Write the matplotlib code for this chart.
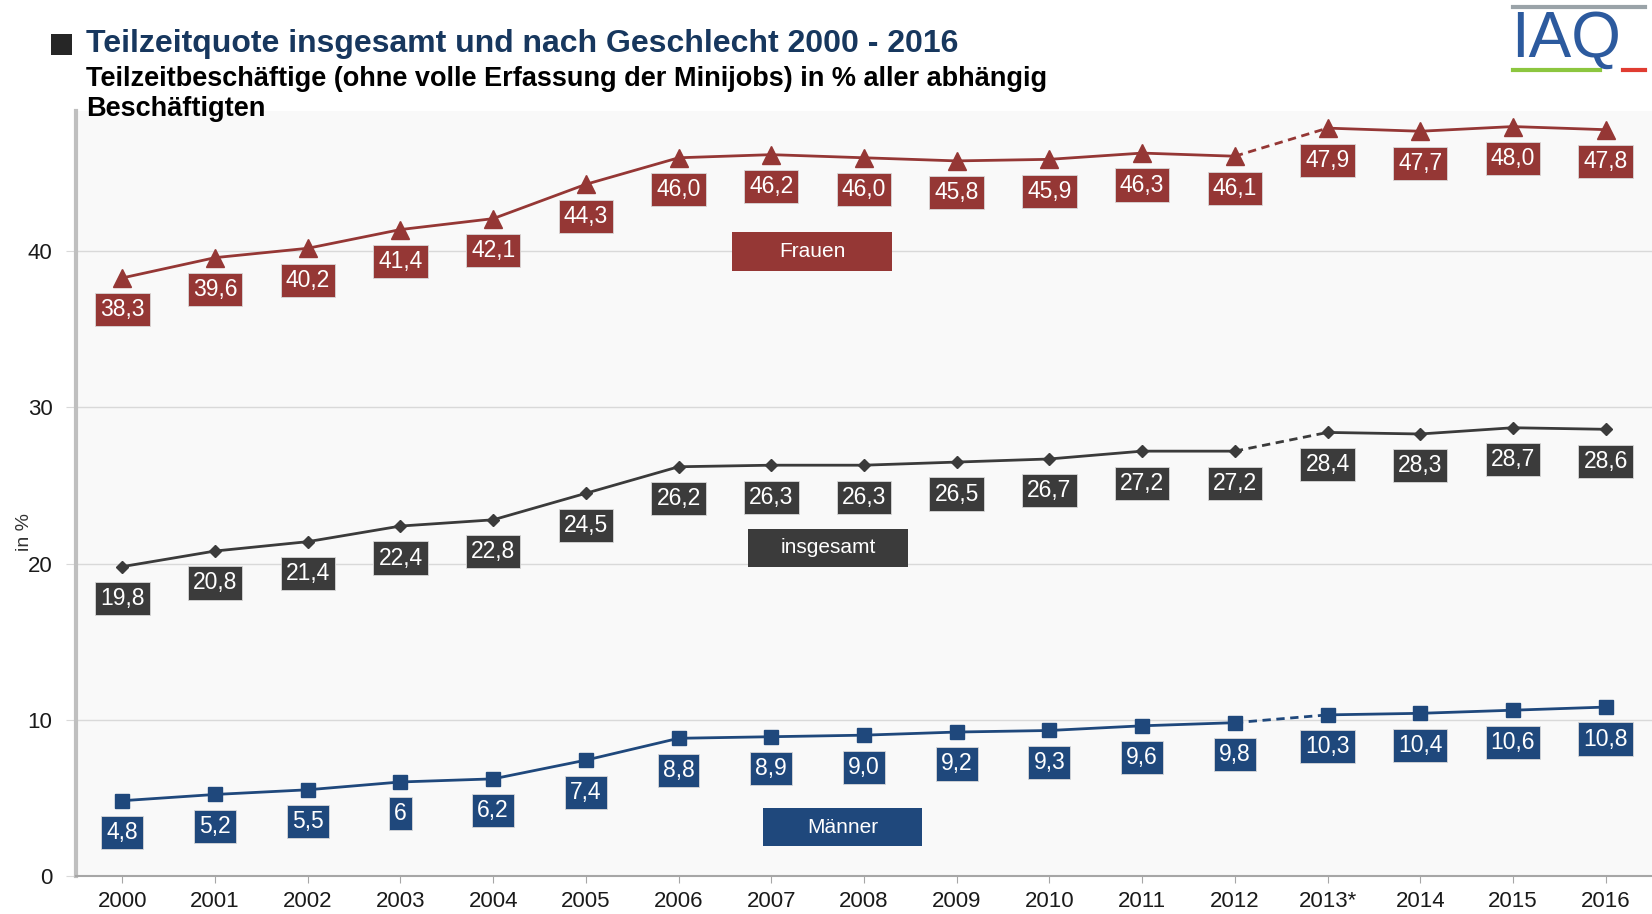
import numpy as np
import matplotlib.pyplot as plt
from matplotlib.lines import Line2D

plt.rcParams['font.family'] = ['Liberation Sans', 'DejaVu Sans']

# ── Data ──────────────────────────────────────────────────────────────────────
years = ['2000', '2001', '2002', '2003', '2004', '2005', '2006', '2007', '2008',
         '2009', '2010', '2011', '2012', '2013*', '2014', '2015', '2016']
frauen = [38.3, 39.6, 40.2, 41.4, 42.1, 44.3, 46.0, 46.2, 46.0, 45.8, 45.9,
          46.3, 46.1, 47.9, 47.7, 48.0, 47.8]
insgesamt = [19.8, 20.8, 21.4, 22.4, 22.8, 24.5, 26.2, 26.3, 26.3, 26.5, 26.7,
             27.2, 27.2, 28.4, 28.3, 28.7, 28.6]
maenner = [4.8, 5.2, 5.5, 6.0, 6.2, 7.4, 8.8, 8.9, 9.0, 9.2, 9.3, 9.6, 9.8,
           10.3, 10.4, 10.6, 10.8]
label_override = {('Männer', 3): '6'}
break_idx = 12   # dashed segment 2012 -> 2013*

# name, values, colour, marker, marker size, series-label centre (x, y)
series = [
    ('Frauen',    frauen,    '#953735', '^', 13, (7.44, 40.0)),
    ('insgesamt', insgesamt, '#3b3b3b', 'D', 6,  (7.61, 21.0)),
    ('Männer',    maenner,   '#1f487c', 's', 10, (7.77, 3.1)),
]

# ── Figure ────────────────────────────────────────────────────────────────────
fig = plt.figure(figsize=(16.52, 9.14), dpi=100)
ax = fig.add_axes([0.046, 0.042, 0.954, 0.8366])
ax.set_facecolor('#f9f9f9')

x = np.arange(len(years))
box_w, box_h = 1.72, 2.45   # series label box size (data units)
for name, vals, col, mk, ms, (lx, ly) in series:
    v = np.array(vals)
    ax.plot(x[:break_idx + 1], v[:break_idx + 1], color=col, lw=2, zorder=3)
    ax.plot(x[break_idx:break_idx + 2], v[break_idx:break_idx + 2], color=col,
            lw=2, ls=(0, (3, 2)), zorder=3)
    ax.plot(x[break_idx + 1:], v[break_idx + 1:], color=col, lw=2, zorder=3)
    ax.plot(x, v, ls='none', marker=mk, ms=ms, color=col, zorder=4)
    for i, val in enumerate(vals):
        txt = label_override.get((name, i), '{:.1f}'.format(val).replace('.', ','))
        ax.annotate(txt, (i, val), xytext=(0, -23), textcoords='offset points',
                    ha='center', va='center', color='white', fontsize=16.5,
                    bbox=dict(boxstyle='square,pad=0.22', facecolor=col,
                              edgecolor='#d8d8d8', lw=0.6), zorder=5)
    ax.add_patch(plt.Rectangle((lx - box_w / 2, ly - box_h / 2), box_w, box_h,
                               facecolor=col, edgecolor='none', zorder=5))
    ax.text(lx, ly, name, ha='center', va='center', color='white', fontsize=15,
            zorder=6)

ax.set_xlim(-0.5, 16.5)
ax.set_ylim(0, 49)
ax.set_xticks(x)
ax.set_xticklabels(years)
ax.set_yticks([0, 10, 20, 30, 40])
ax.yaxis.grid(True, color='#d9d9d9', lw=1)
ax.set_axisbelow(True)
ax.tick_params(axis='x', length=5, color='#a6a6a6', labelsize=16, pad=6,
               labelcolor='#1a1a1a')
ax.tick_params(axis='y', length=7, color='#d9d9d9', labelsize=16, pad=10,
               labelcolor='#1a1a1a')
for s in ('top', 'right'):
    ax.spines[s].set_visible(False)
ax.spines['left'].set_color('#bfbfbf')
ax.spines['left'].set_linewidth(3)
ax.spines['bottom'].set_color('#a6a6a6')
ax.spines['bottom'].set_linewidth(1.5)
ax.set_ylabel('in %', fontsize=14, color='#333333')
ax.yaxis.set_label_coords(-0.027, 0.45)

# ── Title block ───────────────────────────────────────────────────────────────
def fx(px):
    return px / 1652


def fy(py):
    return 1 - py / 914


fig.patches.append(plt.Rectangle((fx(51), fy(55)), fx(21), 21 / 914,
                                 transform=fig.transFigure, facecolor='#262626',
                                 edgecolor='none'))
fig.text(fx(86), fy(44), 'Teilzeitquote insgesamt und nach Geschlecht 2000 - 2016',
         fontsize=23, fontweight='bold', color='#17375e', va='center')
fig.text(fx(86), fy(79),
         'Teilzeitbeschäftige (ohne volle Erfassung der Minijobs) in % aller abhängig',
         fontsize=19.5, fontweight='bold', color='black', va='center')
fig.text(fx(86), fy(109), 'Beschäftigten',
         fontsize=19.5, fontweight='bold', color='black', va='center')

# ── IAQ logo ──────────────────────────────────────────────────────────────────
fig.lines.append(Line2D([fx(1513), fx(1645)], [fy(7), fy(7)], color='#9aa3a8',
                        lw=3, transform=fig.transFigure))
fig.lines.append(Line2D([fx(1513), fx(1600)], [fy(70), fy(70)], color='#8cc63f',
                        lw=3, transform=fig.transFigure))
fig.lines.append(Line2D([fx(1623), fx(1645)], [fy(70), fy(70)], color='#e03c31',
                        lw=3, transform=fig.transFigure))
fig.text(fx(1511), fy(40), 'IAQ', fontsize=46, color='#2c5a9e', va='center',
         ha='left')

fig.savefig('out.png', dpi=100)
